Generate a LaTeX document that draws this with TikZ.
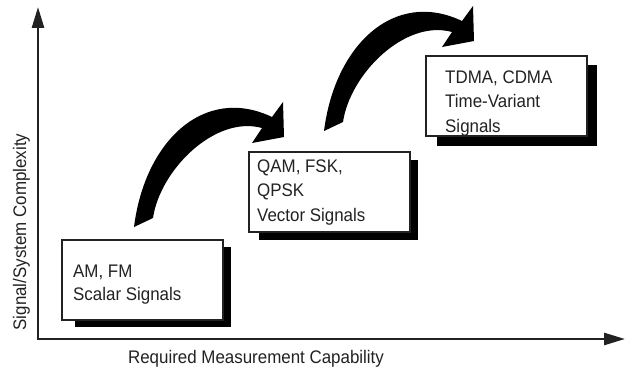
\documentclass[tikz,border=0pt]{standalone}
\usepackage{fontspec}
\setmainfont{Liberation Sans}
\newfontfamily\narrowsans[FakeStretch=0.93]{Liberation Sans}
\usetikzlibrary{arrows.meta}
\definecolor{ink}{HTML}{222222}
\tikzset{
  box/.style={draw=ink, line width=1.6pt, fill=white, minimum width=161pt, minimum height=80pt, inner sep=0pt, anchor=north west},
  shade/.style={fill=black},
  boxtext/.style={font=\narrowsans\fontsize{18.2}{24.5}\selectfont, text=ink, inner sep=0pt, align=left, anchor=base west},
  axistext/.style={font=\narrowsans\fontsize{18.2}{20}\selectfont, text=ink, inner sep=0pt, anchor=base},
  axis/.style={draw=ink, line width=2.6pt, line join=miter, {Triangle[length=21pt,width=12pt]}-{Triangle[length=21pt,width=12pt]}},
  curvearrow/.pic={
    \fill (134,227) .. controls (145,140) and (205,85) .. (272,117) -- (283,102) -- (284,137) -- (252,143) -- (262,128)
      .. controls (215,115) and (160,170) .. (153,218) -- cycle;
  }
}
\begin{document}
\begin{tikzpicture}[x=1pt,y=-1pt]
\useasboundingbox (0,0) rectangle (626,369);
% axes
\coordinate (O) at (38,339);
\coordinate (ytip) at (38,7);
\coordinate (xtip) at (625,339);
\draw[axis] (ytip) -- (O) -- (xtip);
\node[axistext] (xl) at (256,363) {Required Measurement Capability};
\node[axistext, rotate=90] (yl) at (26,232) {Signal/System Complexity};
% boxes with shadows
\fill[shade] (75,247) rectangle (231,327);
\node[box] (b1) at (61,239) {};
\fill[shade] (259,160) rectangle (418,240);
\node[box] (b2) at (248,151) {};
\fill[shade] (437,65) rectangle (597,146);
\node[box] (b3) at (425,55) {};
% texts (anchor = baseline of last line)
\node[boxtext, font=\narrowsans\fontsize{18.2}{23}\selectfont] (t1) at (73,300) {AM, FM\\Scalar Signals};
\node[boxtext] (t2) at (257,221) {QAM, FSK,\\QPSK\\Vector Signals};
\node[boxtext] (t3) at (445,132) {TDMA, CDMA\\Time-Variant\\Signals};
% curved arrows
\pic (a1) at (0,0) {curvearrow};
\pic (a2) at (190,-96) {curvearrow};
\end{tikzpicture}
\end{document}
